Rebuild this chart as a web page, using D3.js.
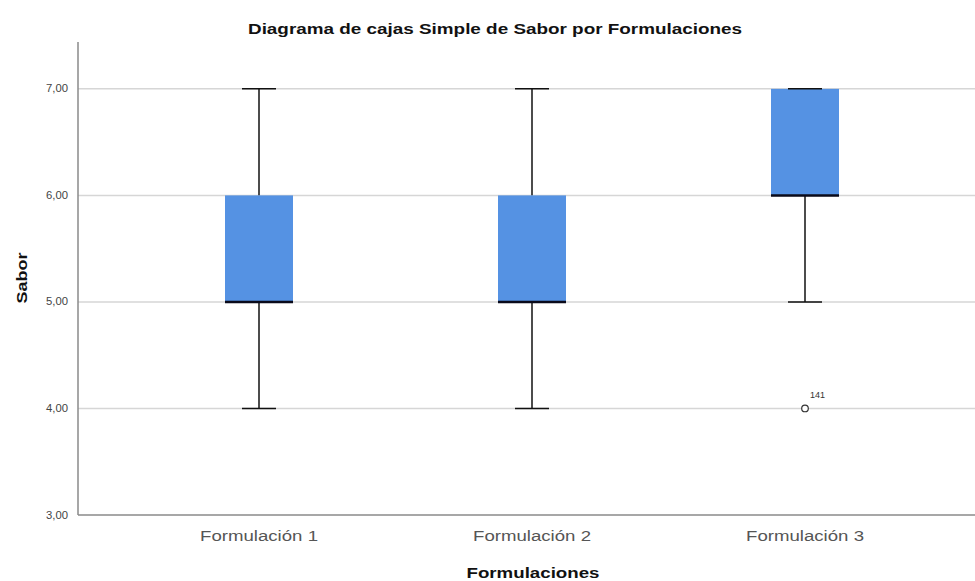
<!DOCTYPE html>
<html>
<head>
<meta charset="utf-8">
<script src="https://cdn.jsdelivr.net/npm/d3@7"></script>
<style>
  body { margin: 0; background: #fff; }
  svg { display: block; }
</style>
</head>
<body>
<svg id="chart" width="975" height="581"></svg>
<script>
// Box plot summary per formulation
const categories = ["Formulación 1", "Formulación 2", "Formulación 3"];
const whiskerLow = [4, 4, 5];
const q1 = [5, 5, 6];
const median = [5, 5, 6];
const q3 = [6, 6, 7];
const whiskerHigh = [7, 7, 7];
const outliers = [{ cat: "Formulación 3", value: 4, label: "141" }];
const yTicks = [3, 4, 5, 6, 7];

const svg = d3.select("#chart");
const W = 975, H = 581;
const plotLeft = 78, plotBottom = 515, plotTop = 42;

const y = d3.scaleLinear().domain([3, 7.44]).range([plotBottom, plotTop]);
const x = d3.scalePoint().domain(categories).range([259, 805]);

const boxW = 68, capW = 34;
const fmt = d => d.toFixed(2).replace(".", ",");
const FONT = "Arial, 'Liberation Sans', sans-serif";

// Gridlines
svg.append("g").selectAll("line").data(yTicks.filter(t => t > 3)).join("line")
  .attr("x1", plotLeft).attr("x2", W)
  .attr("y1", d => y(d)).attr("y2", d => y(d))
  .attr("stroke", "#d6d6d6").attr("stroke-width", 1.5);

// Axis lines
svg.append("line").attr("x1", plotLeft).attr("x2", plotLeft).attr("y1", plotTop).attr("y2", plotBottom)
  .attr("stroke", "#8a8a8a").attr("stroke-width", 1.5);
svg.append("line").attr("x1", plotLeft).attr("x2", W).attr("y1", plotBottom).attr("y2", plotBottom)
  .attr("stroke", "#8a8a8a").attr("stroke-width", 1.5);

// Y tick labels
svg.append("g").selectAll("text").data(yTicks).join("text")
  .attr("x", plotLeft - 10).attr("y", d => y(d) + 3.5)
  .attr("text-anchor", "end")
  .attr("font-family", FONT)
  .attr("font-size", 10).attr("fill", "#444")
  .attr("textLength", 22).attr("lengthAdjust", "spacingAndGlyphs")
  .text(fmt);

// X category labels
svg.append("g").selectAll("text").data(categories).join("text")
  .attr("x", d => x(d)).attr("y", 541)
  .attr("text-anchor", "middle")
  .attr("font-family", FONT)
  .attr("font-size", 14).attr("fill", "#555")
  .attr("textLength", 118).attr("lengthAdjust", "spacingAndGlyphs")
  .text(d => d);

// Boxes and whiskers
const g = svg.append("g").selectAll("g").data(categories).join("g");
g.append("line")
  .attr("x1", d => x(d)).attr("x2", d => x(d))
  .attr("y1", (d, i) => y(whiskerLow[i])).attr("y2", (d, i) => y(q1[i]))
  .attr("stroke", "#111").attr("stroke-width", 1.5);
g.append("line")
  .attr("x1", d => x(d)).attr("x2", d => x(d))
  .attr("y1", (d, i) => y(q3[i])).attr("y2", (d, i) => y(whiskerHigh[i]))
  .attr("stroke", "#111").attr("stroke-width", 1.5);
g.append("line")
  .attr("x1", d => x(d) - capW / 2).attr("x2", d => x(d) + capW / 2)
  .attr("y1", (d, i) => y(whiskerLow[i])).attr("y2", (d, i) => y(whiskerLow[i]))
  .attr("stroke", "#111").attr("stroke-width", 1.5);
g.append("rect")
  .attr("x", d => x(d) - boxW / 2).attr("width", boxW)
  .attr("y", (d, i) => y(q3[i])).attr("height", (d, i) => y(q1[i]) - y(q3[i]))
  .attr("fill", "#5592e3");
g.append("line")
  .attr("x1", d => x(d) - capW / 2).attr("x2", d => x(d) + capW / 2)
  .attr("y1", (d, i) => y(whiskerHigh[i])).attr("y2", (d, i) => y(whiskerHigh[i]))
  .attr("stroke", "#111").attr("stroke-width", 1.5);
g.append("line")
  .attr("x1", d => x(d) - boxW / 2).attr("x2", d => x(d) + boxW / 2)
  .attr("y1", (d, i) => y(median[i])).attr("y2", (d, i) => y(median[i]))
  .attr("stroke", "#0a0a1a").attr("stroke-width", 2.5);

// Outliers
svg.append("g").selectAll("circle").data(outliers).join("circle")
  .attr("cx", d => x(d.cat)).attr("cy", d => y(d.value)).attr("r", 3.3)
  .attr("fill", "#fff").attr("stroke", "#333").attr("stroke-width", 1.2);
svg.append("g").selectAll("text").data(outliers).join("text")
  .attr("x", d => x(d.cat) + 5).attr("y", d => y(d.value) - 10)
  .attr("font-family", FONT)
  .attr("font-size", 9).attr("fill", "#333")
  .text(d => d.label);

// Titles
svg.append("text").attr("x", 495).attr("y", 34).attr("text-anchor", "middle")
  .attr("font-family", FONT)
  .attr("font-size", 14).attr("font-weight", "bold").attr("fill", "#111")
  .attr("textLength", 494).attr("lengthAdjust", "spacingAndGlyphs")
  .text("Diagrama de cajas Simple de Sabor por Formulaciones");
svg.append("text").attr("x", 533).attr("y", 578).attr("text-anchor", "middle")
  .attr("font-family", FONT)
  .attr("font-size", 15).attr("font-weight", "bold").attr("fill", "#111")
  .attr("textLength", 133).attr("lengthAdjust", "spacingAndGlyphs")
  .text("Formulaciones");
svg.append("text").attr("transform", "translate(27,278) rotate(-90)").attr("text-anchor", "middle")
  .attr("font-family", FONT)
  .attr("font-size", 14).attr("font-weight", "bold").attr("fill", "#111")
  .attr("textLength", 51).attr("lengthAdjust", "spacingAndGlyphs")
  .text("Sabor");
</script>
</body>
</html>
